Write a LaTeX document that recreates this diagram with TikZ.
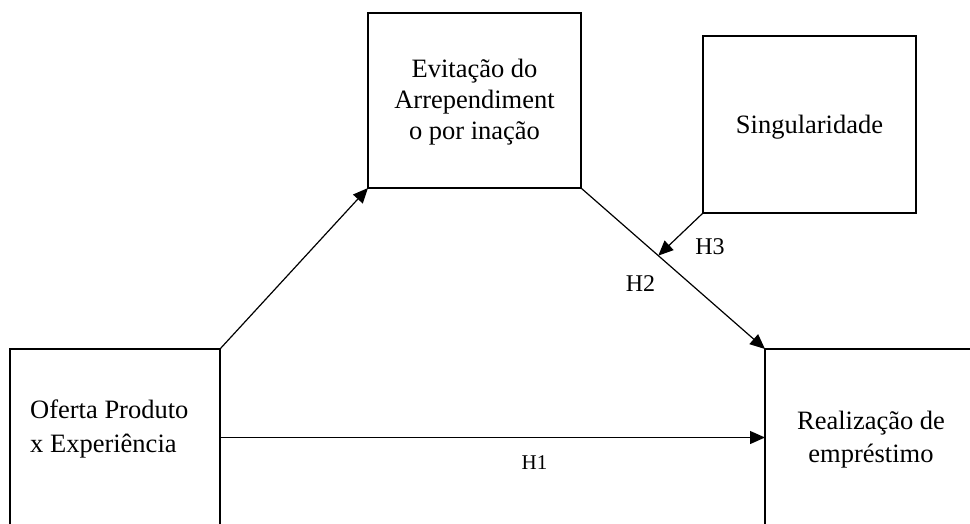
\documentclass[tikz,border=0pt]{standalone}
\usepackage{fontspec}
\setmainfont{Liberation Serif}
\usetikzlibrary{arrows.meta,calc}
\begin{document}
\begin{tikzpicture}[x=1pt,y=-1pt,
  box/.style={draw, line width=2.5pt, inner sep=0pt, outer sep=0pt},
  bigtxt/.style={font=\fontsize{26.5}{31}\selectfont, align=center, inner sep=0pt},
  hlbl/.style={font=\fontsize{24}{28}\selectfont, inner sep=0pt},
  arr/.style={line width=1.2pt, -{Triangle[length=15pt,width=13pt]}}]
\useasboundingbox (0,0) rectangle (970,523);
\clip (0,0) rectangle (970,523);
% boxes
\node[box, minimum width=213pt, minimum height=175pt] (evit) at (474.5,100.5) {};
\node[box, minimum width=213pt, minimum height=177pt] (sing) at (809.5,124.5) {};
\node[box, minimum width=210pt, minimum height=177pt] (oferta) at (115,437.5) {};
\node[box, minimum width=212pt, minimum height=177pt] (real) at (871,437.5) {};
% texts
\node[bigtxt] (evitT) at (474.5,101.7) {Evitação do\\Arrependiment\\o por inação};
\node[bigtxt] (singT) at (809.5,127.4) {Singularidade};
\node[bigtxt, font=\fontsize{26.5}{34}\selectfont, align=left, anchor=west] (ofertaT) at (30,428.7) {Oferta Produto\\x Experiência};
\node[bigtxt, font=\fontsize{26.5}{33}\selectfont] (realT) at (871,439.3) {Realização de\\empréstimo};
% connectors
\draw[arr] (oferta.north east) -- (evit.south west);
\draw[arr] (evit.south east) -- (real.north west);
\draw[arr] (oferta.east) -- (real.west);
\coordinate (h3end) at ($(evit.south east)!0.42!(real.north west)$);
\draw[arr] (sing.south west) -- (h3end);
% labels
\node[hlbl, font=\fontsize{21}{25}\selectfont] (h1) at (534.5,462.5) {H1};
\node[hlbl] (h2) at (640.5,283.5) {H2};
\node[hlbl] (h3) at (710,246.5) {H3};
\end{tikzpicture}
\end{document}
